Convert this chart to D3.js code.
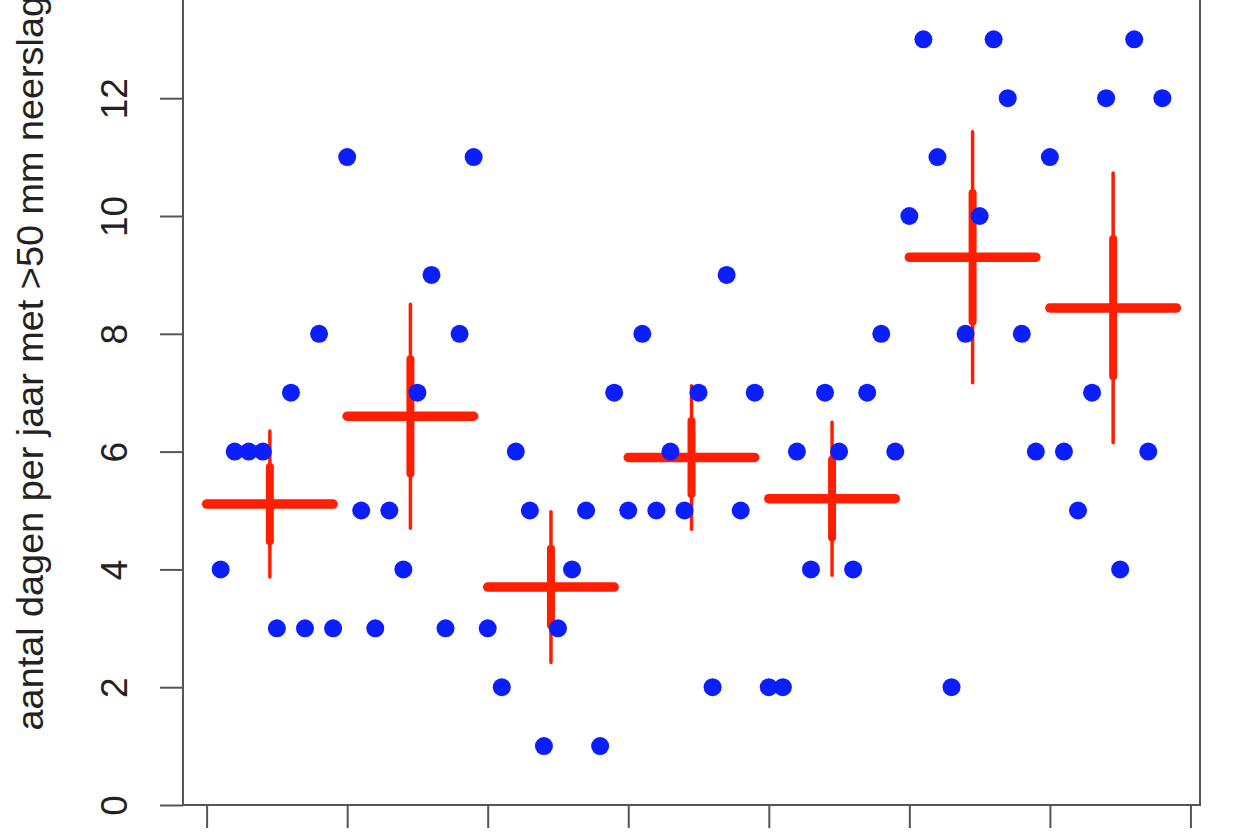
<!DOCTYPE html>
<html>
<head>
<meta charset="utf-8">
<script src="https://cdn.jsdelivr.net/npm/d3@7"></script>
<style>
  html, body { margin: 0; padding: 0; background: #ffffff; }
  svg { display: block; }
</style>
</head>
<body>
<svg id="chart" width="1260" height="840"></svg>
<script>
// ---- data ----
const years = [1951,1952,1953,1954,1955,1956,1957,1958,1959,
  1960,1961,1962,1963,1964,1965,1966,1967,1968,1969,
  1970,1971,1972,1973,1974,1975,1976,1977,1978,1979,
  1980,1981,1982,1983,1984,1985,1986,1987,1988,1989,
  1990,1991,1992,1993,1994,1995,1996,1997,1998,1999,
  2000,2001,2002,2003,2004,2005,2006,2007,2008,2009,
  2010,2011,2012,2013,2014,2015,2016,2017,2018];
const days = [4,6,6,6,3,7,3,8,3,
  11,5,3,5,4,7,9,3,8,11,
  3,2,6,5,1,3,4,5,1,7,
  5,8,5,6,5,7,2,9,5,7,
  2,2,6,4,7,6,4,7,8,6,
  10,13,11,2,8,10,13,12,8,6,
  11,6,5,7,12,4,13,6,12];

const decadeStart = [1950,1960,1970,1980,1990,2000,2010];
const decadeEnd   = [1959,1969,1979,1989,1999,2009,2019];
const decadeMean  = [5.11,6.60,3.70,5.90,5.20,9.30,8.44];
const innerLo     = [4.48,5.63,3.05,5.28,4.54,8.21,7.28];
const innerHi     = [5.74,7.57,4.35,6.52,5.86,10.39,9.61];
const outerLo     = [3.87,4.70,2.42,4.68,3.90,7.17,6.15];
const outerHi     = [6.35,8.50,4.98,7.12,6.50,11.43,10.73];

const xTicks = [1950,1960,1970,1980,1990,2000,2010,2020];
const yTicks = [0,2,4,6,8,10,12];
const yLabel = "aantal dagen per jaar met >50 mm neerslag";

// ---- layout ----
const svg = d3.select("#chart");
const left = 183, right = 1200, bottom = 805;
const pxPerUnit = 58.9;
const yMax = 15;

const x = d3.scaleLinear().domain([1948.32, 2020.68]).range([left, right]);
const y = d3.scaleLinear().domain([0, yMax]).range([bottom, bottom - yMax * pxPerUnit]);

const axisColor = "#555555";
const red = "#ff1e00";
const blue = "#0a1eff";

// box
svg.append("rect")
  .attr("x", left).attr("y", y(yMax))
  .attr("width", right - left).attr("height", bottom - y(yMax))
  .attr("fill", "none").attr("stroke", axisColor).attr("stroke-width", 2);

// y axis
const gy = svg.append("g").attr("transform", `translate(${left},0)`)
  .call(d3.axisLeft(y).tickValues(yTicks).tickSize(23).tickSizeOuter(0).tickFormat(d3.format("d")));
gy.select(".domain").remove();
gy.selectAll(".tick line").attr("stroke", axisColor).attr("stroke-width", 2);
gy.selectAll(".tick text")
  .attr("x", 0).attr("y", -56).attr("dy", 0)
  .attr("transform", "rotate(-90)")
  .attr("text-anchor", "middle")
  .attr("fill", "#222")
  .style("font-family", "'Liberation Sans', Arial, Helvetica, sans-serif")
  .style("font-size", "37px");

// x axis (tick labels fall below the visible frame)
const gx = svg.append("g").attr("transform", `translate(0,${bottom})`)
  .call(d3.axisBottom(x).tickValues(xTicks).tickSize(23).tickSizeOuter(0).tickFormat(""));
gx.select(".domain").remove();
gx.selectAll(".tick line").attr("stroke", axisColor).attr("stroke-width", 2);

// y label
svg.append("text")
  .attr("transform", `translate(43,${(y(0) + y(yMax)) / 2}) rotate(-90)`)
  .attr("text-anchor", "middle")
  .attr("fill", "#222")
  .style("font-family", "'Liberation Sans', Arial, Helvetica, sans-serif")
  .style("font-size", "37.8px")
  .text(yLabel);

// decade crosses
const dec = decadeStart.map((s, i) => ({
  s, e: decadeEnd[i], m: decadeMean[i], mid: (s + decadeEnd[i] - 1) / 2 + 0.5 - 0.5 + 0,
  ilo: innerLo[i], ihi: innerHi[i], olo: outerLo[i], ohi: outerHi[i]
}));
dec.forEach(d => { d.mid = d.s + 4.5; d.e = d.s + 9; });

const gc = svg.append("g").attr("stroke", red).attr("stroke-linecap", "round");
gc.selectAll("line.outer").data(dec).join("line").attr("class", "outer")
  .attr("x1", d => x(d.mid)).attr("x2", d => x(d.mid))
  .attr("y1", d => y(d.olo)).attr("y2", d => y(d.ohi))
  .attr("stroke-width", 3.5);
gc.selectAll("line.inner").data(dec).join("line").attr("class", "inner")
  .attr("x1", d => x(d.mid)).attr("x2", d => x(d.mid))
  .attr("y1", d => y(d.ilo)).attr("y2", d => y(d.ihi))
  .attr("stroke-width", 8);
gc.selectAll("line.mean").data(dec).join("line").attr("class", "mean")
  .attr("x1", d => x(d.s)).attr("x2", d => x(d.e))
  .attr("y1", d => y(d.m)).attr("y2", d => y(d.m))
  .attr("stroke-width", 9.5);

// yearly points
svg.append("g").selectAll("circle")
  .data(years.map((yr, i) => ({ yr, v: days[i] })))
  .join("circle")
  .attr("cx", d => x(d.yr)).attr("cy", d => y(d.v))
  .attr("r", 9).attr("fill", blue);
</script>
</body>
</html>
